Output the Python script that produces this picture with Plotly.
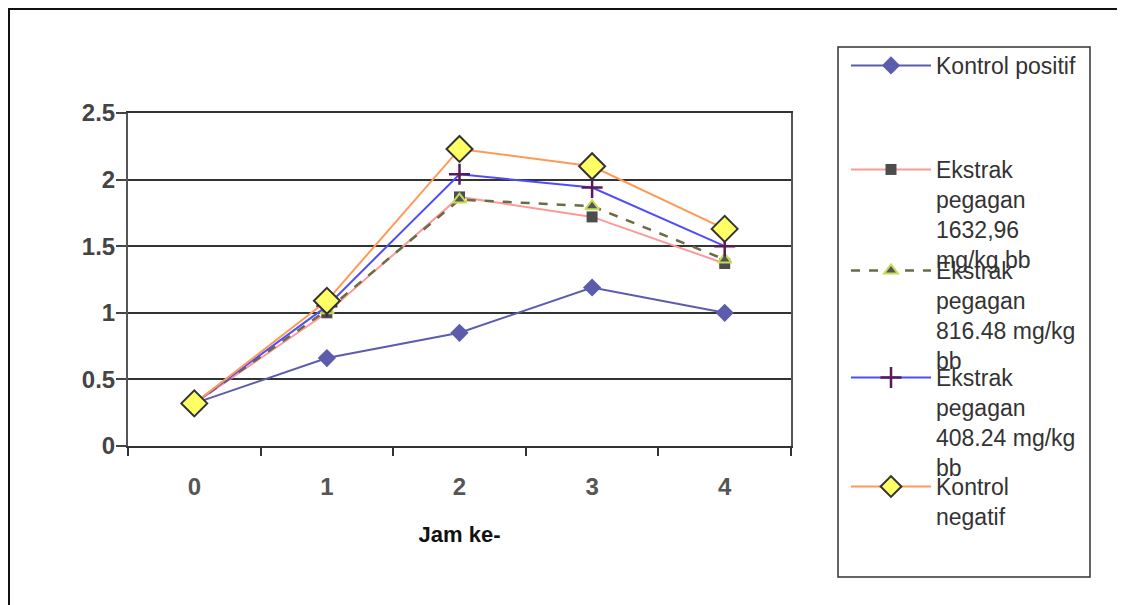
import plotly.graph_objects as go

# ---- data ----
hours = ["0", "1", "2", "3", "4"]
kontrol_positif = [0.32, 0.66, 0.85, 1.19, 1.00]
ekstrak_1632 = [0.32, 1.00, 1.87, 1.72, 1.37]
ekstrak_816 = [0.32, 1.02, 1.85, 1.80, 1.40]
ekstrak_408 = [0.32, 1.05, 2.04, 1.94, 1.50]
kontrol_negatif = [0.32, 1.09, 2.23, 2.10, 1.63]

names = [
    "Kontrol positif",
    "Ekstrak<br>pegagan<br>1632,96<br>mg/kg bb",
    "Ekstrak<br>pegagan<br>816.48 mg/kg<br>bb",
    "Ekstrak<br>pegagan<br>408.24 mg/kg<br>bb",
    "Kontrol<br>negatif",
]

FONT = "Arial, Liberation Sans, sans-serif"
TXT = "#333333"

fig = go.Figure()
fig.add_trace(go.Scatter(
    x=hours, y=kontrol_positif, name=names[0], mode="lines+markers",
    line=dict(color="#5c5cad", width=2),
    marker=dict(symbol="diamond", size=14, color="#5c5cad"),
    legend="legend"))
fig.add_trace(go.Scatter(
    x=hours, y=ekstrak_1632, name=names[1], mode="lines+markers",
    line=dict(color="#ff9999", width=2),
    marker=dict(symbol="square", size=11, color="#4d4d4d"),
    legend="legend2"))
fig.add_trace(go.Scatter(
    x=hours, y=ekstrak_816, name=names[2], mode="lines+markers",
    line=dict(color="#6b6b45", width=2.5, dash="dash"),
    marker=dict(symbol="triangle-up", size=12, color="#555555",
                line=dict(color="#c5dc5a", width=2)),
    legend="legend3"))
fig.add_trace(go.Scatter(
    x=hours, y=ekstrak_408, name=names[3], mode="lines+markers",
    line=dict(color="#4d4dff", width=2),
    marker=dict(symbol="cross-thin", size=15, color="#5a1a5a",
                line=dict(color="#5a1a5a", width=2.5)),
    legend="legend4"))
fig.add_trace(go.Scatter(
    x=hours, y=kontrol_negatif, name=names[4], mode="lines+markers",
    line=dict(color="#ff9955", width=2),
    marker=dict(symbol="diamond", size=20, color="#ffff66",
                line=dict(color="#333333", width=2)),
    legend="legend5"))

# page has an 8px body margin; work in screen pixels and convert
OFF = 8
W, H = 1125 - OFF, 605 - OFF
PX0, PX1, PY0, PY1 = 128, 791, 113, 446   # plot area in screen px
L = PX0 - OFF
T = PY0 - OFF
R = W - (PX1 - OFF)
B = H - (PY1 - OFF)
pw, ph = PX1 - PX0, PY1 - PY0


def px_x(p):
    return (p - PX0) / pw


def px_y(p):
    return (PY1 - p) / ph


legend_common = dict(
    bgcolor="rgba(0,0,0,0)", borderwidth=0,
    font=dict(family=FONT, size=23, color=TXT),
    itemwidth=80, valign="top", xanchor="left", yanchor="top",
    x=px_x(846),
)
leg_tops = [44, 148, 249, 356, 465]

layout_legends = {}
for i, top in enumerate(leg_tops):
    key = "legend" if i == 0 else f"legend{i+1}"
    layout_legends[key] = dict(legend_common, y=px_y(top))

fig.update_layout(
    width=W, height=H, autosize=False,
    margin=dict(l=L, r=R, t=T, b=B, pad=0),
    paper_bgcolor="white", plot_bgcolor="white",
    font=dict(family=FONT, color=TXT),
    showlegend=True,
    **layout_legends,
    shapes=[
        # outer chart frame
        dict(type="rect", xref="paper", yref="paper",
             x0=px_x(9), x1=px_x(1140), y0=px_y(620), y1=px_y(9),
             line=dict(color="#111111", width=2), fillcolor="rgba(0,0,0,0)",
             layer="below"),
        # legend box
        dict(type="rect", xref="paper", yref="paper",
             x0=px_x(838), x1=px_x(1090), y0=px_y(577), y1=px_y(47),
             line=dict(color="#333333", width=1.5), fillcolor="rgba(0,0,0,0)",
             layer="below"),
    ],
)

fig.update_xaxes(
    type="category", categoryorder="array", categoryarray=hours,
    range=[-0.5, len(hours) - 0.5],
    tickson="boundaries", ticks="outside", ticklen=8, tickwidth=2,
    tickcolor="#333333", showline=True, linecolor="#333333", linewidth=2,
    mirror=True, showgrid=False, zeroline=False,
    tickfont=dict(family=FONT, size=24, color="#555555", weight="bold"),
    ticklabelstandoff=18,
    title=dict(text="<b>Jam ke-</b>", font=dict(family=FONT, size=22, color="#111111"),
               standoff=28),
)
fig.update_yaxes(
    range=[0, 2.5], dtick=0.5, tick0=0,
    ticks="outside", ticklen=10, tickwidth=2, tickcolor="#444444",
    showline=True, linecolor="#555555", linewidth=2, mirror=True,
    showgrid=True, gridcolor="#333333", gridwidth=2, zeroline=False,
    tickfont=dict(family=FONT, size=24, color="#444444", weight="bold"),
    ticklabelstandoff=-4,
)

fig.write_html("out.html")
